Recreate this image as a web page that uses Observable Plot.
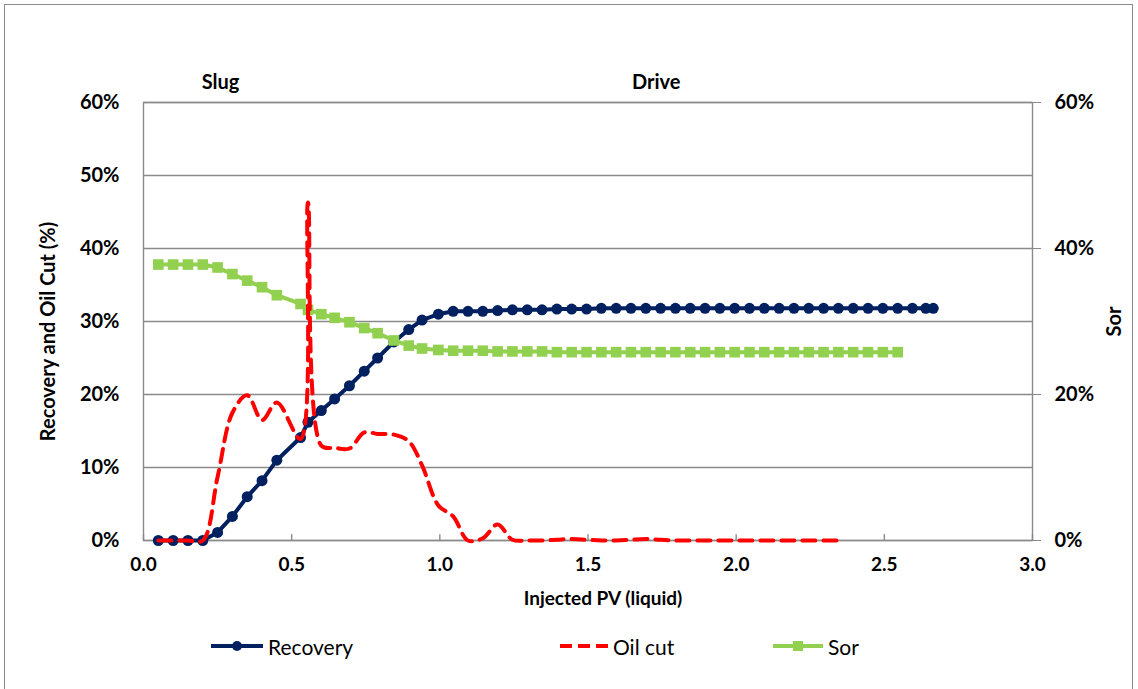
<!DOCTYPE html>
<html>
<head>
<meta charset="utf-8">
<script src="https://cdn.jsdelivr.net/npm/d3@7"></script>
<script src="https://cdn.jsdelivr.net/npm/@observablehq/plot@0.6"></script>
<style>
html, body { margin: 0; padding: 0; background: #fff; }
#wrap { position: relative; width: 1138px; height: 689px; overflow: hidden; font-family: Lato, "Open Sans", sans-serif; background: #fff; }
#border { position: absolute; left: 4px; top: 4px; width: 1129px; height: 720px; border: 1px solid #8a8a8a; box-sizing: border-box; pointer-events: none; }
#chart { position: absolute; left: 0; top: 0; }
.item { position: absolute; top: 634px; height: 24px; display: flex; align-items: center; font-size: 21px; color: #000; white-space: nowrap; }
.item svg { margin-right: 5px; }
</style>
</head>
<body>
<div id="wrap">
  <div id="chart"></div>
  <div id="legend"></div>
  <div id="border"></div>
</div>
<script>
// Injected PV (liquid)
const pv = [0.05,0.10,0.15,0.20,0.25,0.30,0.35,0.40,0.45,0.53,0.555,0.60,0.645,0.695,0.745,0.79,0.845,0.895,0.94,0.995,
  1.045,1.095,1.145,1.195,1.245,1.295,1.345,1.395,1.445,1.495,1.545,1.595,1.645,1.695,1.745,1.795,1.845,1.895,1.945,1.995,
  2.045,2.095,2.145,2.195,2.245,2.295,2.345,2.395,2.445,2.495,2.545,2.595,2.64,2.665];
// Recovery (%)
const recovery = [0,0,0,0,1.1,3.3,6.0,8.2,11.0,14.1,16.2,17.8,19.4,21.2,23.2,25.0,27.2,28.9,30.2,31.0,
  31.4,31.4,31.4,31.5,31.6,31.6,31.6,31.7,31.7,31.7,31.8,31.8,31.8,31.8,31.8,31.8,31.8,31.8,31.8,31.8,
  31.8,31.8,31.8,31.8,31.8,31.8,31.8,31.8,31.8,31.8,31.8,31.8,31.8,31.8];
// Oil cut (%)
const oilCut = [0,0,0,0,8.7,17.5,19.9,16.5,18.9,13.9,46.3,13.0,12.7,12.6,14.8,14.6,14.5,13.6,10.3,4.8,
  3.3,0,0.3,2.2,0.1,0,0,0.1,0.2,0.1,0,0,0.1,0.2,0.1,0,0,0,0,0,
  0,0,0,0,0,0,0];
// Sor (%), secondary axis with the same 0-60% range
const sor = [37.8,37.8,37.8,37.8,37.4,36.5,35.6,34.7,33.6,32.4,31.6,31.0,30.5,29.9,29.1,28.4,27.4,26.7,26.3,26.1,
  26.0,26.0,26.0,25.9,25.9,25.9,25.9,25.8,25.8,25.8,25.8,25.8,25.8,25.8,25.8,25.8,25.8,25.8,25.8,25.8,
  25.8,25.8,25.8,25.8,25.8,25.8,25.8,25.8,25.8,25.8,25.8];

const xTicks = [0, 0.5, 1.0, 1.5, 2.0, 2.5, 3.0];
const yTicksLeft = [0, 10, 20, 30, 40, 50, 60];
const yTicksRight = [0, 20, 40, 60];
const phaseNames = ["Slug", "Drive"];
const phaseX = [0.26, 1.73];
const seriesNames = ["Recovery", "Oil cut", "Sor"];
const seriesColors = ["#002060", "#ff0000", "#92d050"];

const toRows = (vals) => vals.map((v, i) => ({pv: pv[i], value: v}));
const recRows = toRows(recovery);
const oilRows = toRows(oilCut);
const sorRows = toRows(sor);

const grid = "#8a8a8a";
const pct = d => d + "%";

const chart = Plot.plot({
  width: 1138,
  height: 620,
  marginLeft: 143,
  marginRight: 106,
  marginTop: 102,
  marginBottom: 80,
  style: {fontFamily: "Lato, 'Open Sans', sans-serif", color: "#000", background: "#fff", overflow: "visible"},
  x: {domain: [0, 3], label: null},
  y: {domain: [0, 60], label: null},
  marks: [
    Plot.gridY(yTicksLeft, {stroke: grid, strokeOpacity: 1, strokeWidth: 1.4}),
    Plot.frame({stroke: grid, strokeWidth: 1.4}),
    Plot.ruleX(xTicks, {y1: 0, y2: 0.8, stroke: grid, strokeWidth: 1.4}),
    Plot.axisY(yTicksLeft, {anchor: "left", tickSize: 0, tickPadding: 24, tickFormat: pct, fontSize: 20, fontWeight: "bold", label: null}),
    Plot.axisY(yTicksRight, {anchor: "right", tickSize: 8, tickPadding: 14, stroke: grid, tickFormat: pct, fontSize: 20, fontWeight: "bold", label: null}),
    Plot.axisX(xTicks, {anchor: "bottom", tickSize: 0, tickPadding: 17, tickFormat: d3.format(".1f"), fontSize: 19, fontWeight: "bold", label: null}),
    Plot.line(recRows, {x: "pv", y: "value", stroke: seriesColors[0], strokeWidth: 4}),
    Plot.dot(recRows, {x: "pv", y: "value", r: 5.5, fill: seriesColors[0], stroke: null}),
    Plot.line(sorRows, {x: "pv", y: "value", stroke: seriesColors[2], strokeWidth: 4}),
    Plot.dot(sorRows, {x: "pv", y: "value", symbol: "square", r: 6, fill: seriesColors[2], stroke: null}),
    Plot.line(oilRows, {x: "pv", y: "value", stroke: seriesColors[1], strokeWidth: 4, strokeDasharray: "13,8", curve: "catmull-rom"}),
    Plot.text(phaseNames, {x: (d, i) => phaseX[i], text: d => d, frameAnchor: "top", lineAnchor: "middle", dy: -20, fontSize: 20, fontWeight: "bold"}),
    Plot.text(["Injected PV (liquid)"], {text: d => d, frameAnchor: "bottom", lineAnchor: "middle", textAnchor: "middle", dy: 58, dx: 15, fontSize: 19, fontWeight: "bold"}),
    Plot.text(["Recovery and Oil Cut (%)"], {text: d => d, frameAnchor: "left", textAnchor: "middle", lineAnchor: "middle", dx: -95, dy: 10, rotate: -90, fontSize: 20, fontWeight: "bold"}),
    Plot.text(["Sor"], {text: d => d, frameAnchor: "right", textAnchor: "middle", lineAnchor: "middle", dx: 82, rotate: -90, fontSize: 20, fontWeight: "bold"})
  ]
});
document.getElementById("chart").appendChild(chart);

// Legend
const legend = document.getElementById("legend");
const legendLeft = [211, 560, 773];
seriesNames.forEach((name, i) => {
  const item = document.createElement("div");
  item.className = "item";
  item.style.left = legendLeft[i] + "px";
  const c = seriesColors[i];
  let sw;
  if (i === 0) {
    sw = `<svg width="52" height="20"><line x1="0" y1="10" x2="52" y2="10" stroke="${c}" stroke-width="4"/><circle cx="26" cy="10" r="5" fill="${c}"/></svg>`;
  } else if (i === 1) {
    sw = `<svg width="48" height="20"><line x1="0" y1="10" x2="48" y2="10" stroke="${c}" stroke-width="4" stroke-dasharray="12,6"/></svg>`;
  } else {
    sw = `<svg width="50" height="20"><line x1="0" y1="10" x2="50" y2="10" stroke="${c}" stroke-width="4"/><rect x="20" y="5" width="10" height="10" fill="${c}"/></svg>`;
  }
  item.innerHTML = sw + `<span>${name}</span>`;
  legend.appendChild(item);
});
</script>
</body>
</html>
